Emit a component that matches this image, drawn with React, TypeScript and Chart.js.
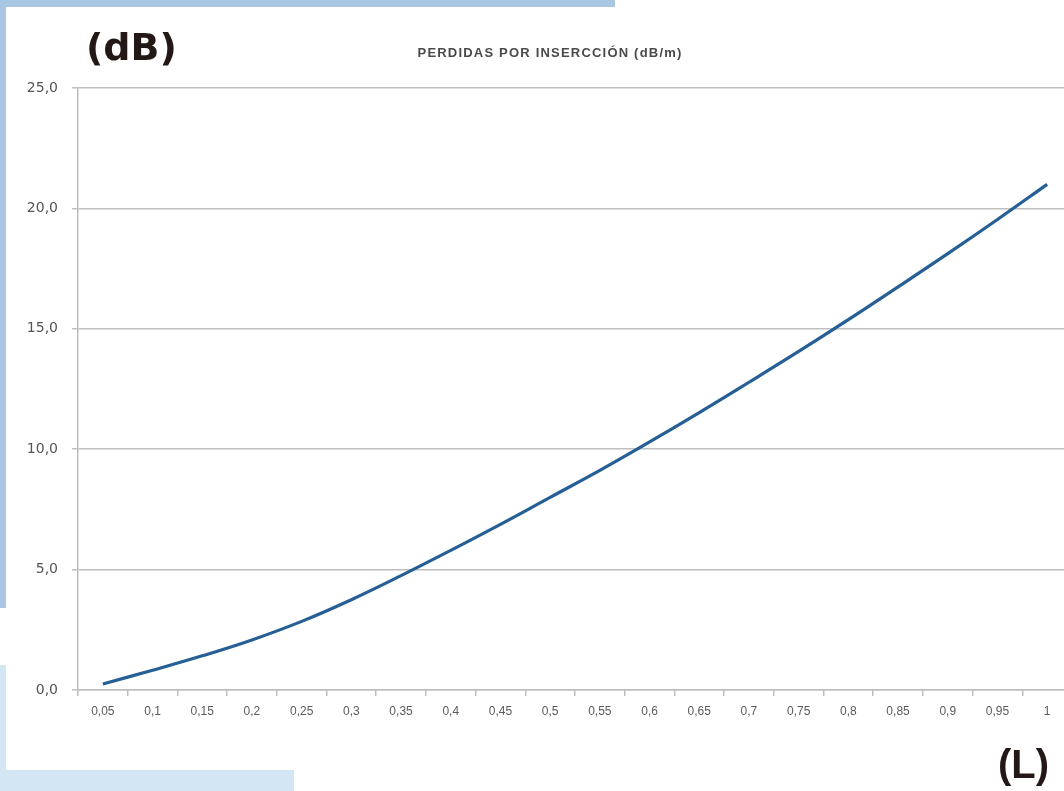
import React, { useEffect, useRef } from "react";
import { Chart, registerables } from "chart.js";

Chart.register(...registerables);

const categories = ["0,05", "0,1", "0,15", "0,2", "0,25", "0,3", "0,35", "0,4", "0,45", "0,5", "0,55", "0,6", "0,65", "0,7", "0,75", "0,8", "0,85", "0,9", "0,95", "1"];
const lossValues = [0.25, 0.82, 1.42, 2.08, 2.85, 3.75, 4.75, 5.8, 6.88, 8.0, 9.12, 10.3, 11.52, 12.78, 14.06, 15.38, 16.74, 18.12, 19.54, 21.0];
const yTicks = [0, 5, 10, 15, 20, 25];
const chartTitle = "PERDIDAS POR INSERCCIÓN (dB/m)";
const yUnit = "(dB)";
const xUnit = "(L)";

export default function App() {
  const canvasRef = useRef<HTMLCanvasElement | null>(null);

  useEffect(() => {
    document.body.style.margin = "0";
    document.body.style.overflow = "hidden";
    const ctx = canvasRef.current;
    if (!ctx) return;
    const chart = new Chart(ctx, {
      type: "line",
      data: {
        labels: categories,
        datasets: [
          {
            label: chartTitle,
            data: lossValues,
            borderColor: "#255f96",
            borderWidth: 3.2,
            pointRadius: 0,
            tension: 0.4,
            fill: false,
          },
        ],
      },
      options: {
        animation: false,
        responsive: false,
        maintainAspectRatio: false,
        layout: { padding: { top: 88, right: 8, left: 0, bottom: 0 } },
        plugins: {
          legend: { display: false },
          title: { display: false },
          tooltip: { enabled: false },
        },
        scales: {
          x: {
            type: "category",
            offset: true,
            grid: {
              offset: true,
              drawOnChartArea: false,
              drawTicks: true,
              tickLength: 6,
              color: "#bdbdbd",
              lineWidth: 1.5,
            },
            border: { display: true, color: "#bdbdbd", width: 1.5 },
            ticks: {
              color: "#5a5a5a",
              padding: 8,
              maxRotation: 0,
              autoSkip: false,
              font: { family: "'Liberation Sans Narrow', 'Liberation Sans', Arial, sans-serif", size: 12 },
            },
            afterFit: (scale: any) => {
              scale.height = 101;
            },
          },
          y: {
            min: 0,
            max: 25,
            afterBuildTicks: (scale: any) => {
              scale.ticks = yTicks.map((v) => ({ value: v }));
            },
            grid: {
              color: "#bfbfbf",
              lineWidth: 1.5,
              tickLength: 6,
            },
            border: { display: true, color: "#bdbdbd", width: 1.5 },
            ticks: {
              color: "#555555",
              padding: 14,
              font: { family: "'DejaVu Sans', 'Liberation Sans', sans-serif", size: 14 },
              callback: (v: any) => Number(v).toFixed(1).replace(".", ","),
            },
            afterFit: (scale: any) => {
              scale.width = 78;
            },
          },
        },
      },
    } as any);
    return () => chart.destroy();
  }, []);

  return (
    <div style={{ position: "fixed", left: 0, top: 0, width: 1064, height: 791, overflow: "hidden", background: "#ffffff" }}>
      <div style={{ position: "absolute", left: 0, top: 0, width: 615, height: 7, background: "#a9c6e3" }} />
      <div style={{ position: "absolute", left: 0, top: 0, width: 6, height: 608, background: "#a9c6e3" }} />
      <div style={{ position: "absolute", left: 0, top: 665, width: 6, height: 126, background: "#d3e6f4" }} />
      <div style={{ position: "absolute", left: 0, top: 770, width: 294, height: 21, background: "#d3e6f4" }} />
      <canvas ref={canvasRef} width={1080} height={791} style={{ position: "absolute", left: 0, top: 0, width: 1080, height: 791 }} />
      <div style={{ position: "absolute", left: 86, top: 22, fontFamily: "'DejaVu Sans', sans-serif", fontWeight: 700, fontSize: 38, color: "#231815", lineHeight: "50px" }}>{yUnit}</div>
      <div style={{ position: "absolute", left: 300, width: 500, top: 45, textAlign: "center", fontFamily: "'Liberation Sans', Arial, sans-serif", fontWeight: 700, fontSize: 13, letterSpacing: 1.2, color: "#4a4a4a", lineHeight: "16px" }}>{chartTitle}</div>
      <div style={{ position: "absolute", left: 998, top: 740, fontFamily: "'Liberation Sans Narrow', 'Liberation Sans', sans-serif", fontWeight: 700, fontSize: 40, color: "#231815", lineHeight: "48px" }}>{xUnit}</div>
    </div>
  );
}
